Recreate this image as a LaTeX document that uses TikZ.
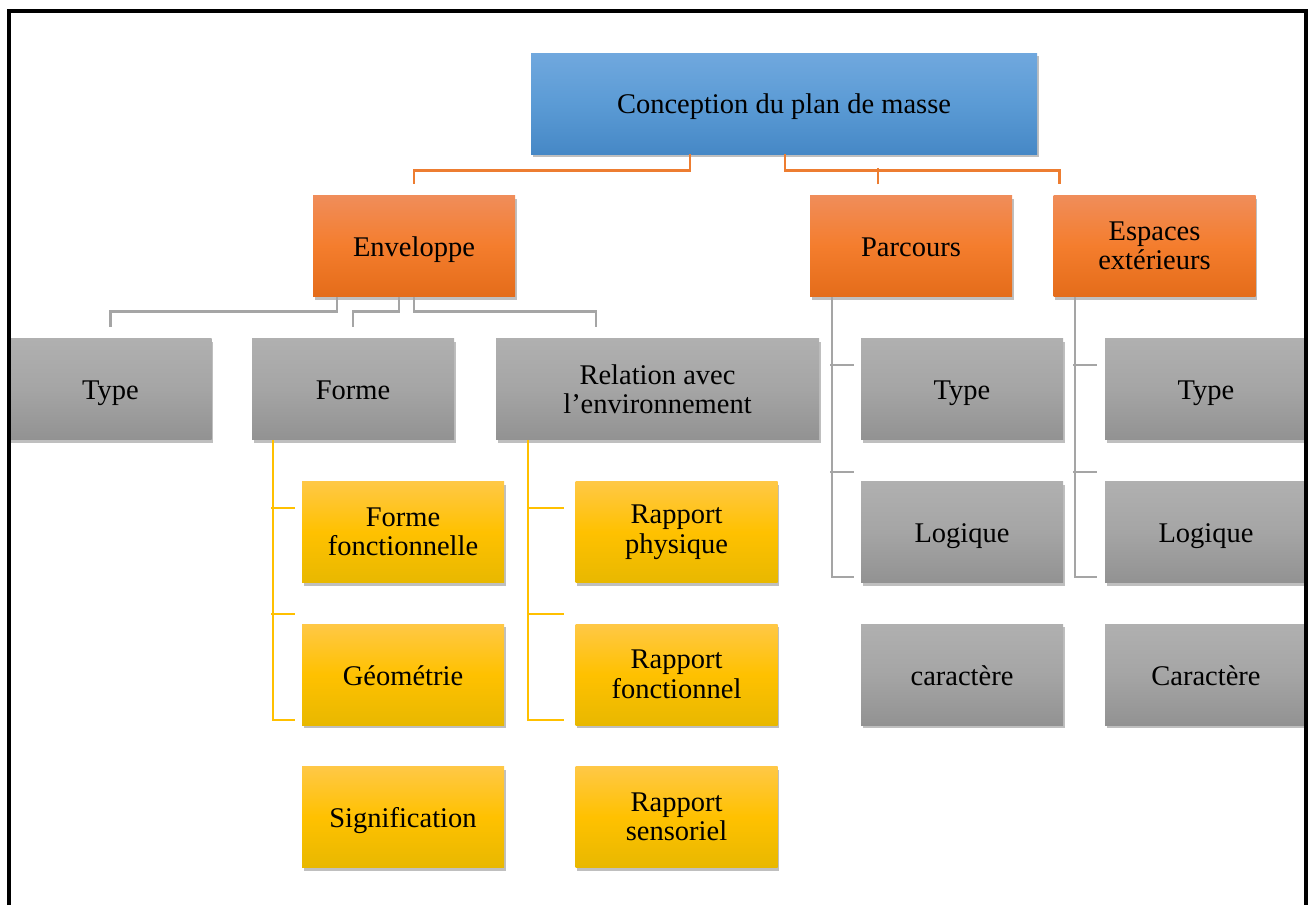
\documentclass[tikz,border=0pt]{standalone}
\usepackage{fontspec}
\setmainfont{Liberation Serif}
\usetikzlibrary{shadows,calc}
\definecolor{blueT}{RGB}{112,168,222}
\definecolor{blueM}{RGB}{91,155,213}
\definecolor{blueB}{RGB}{70,136,198}
\definecolor{orT}{RGB}{240,141,90}
\definecolor{orM}{RGB}{244,125,45}
\definecolor{orB}{RGB}{228,108,26}
\definecolor{grT}{RGB}{176,176,176}
\definecolor{grM}{RGB}{165,165,165}
\definecolor{grB}{RGB}{146,146,146}
\definecolor{yeT}{RGB}{255,200,70}
\definecolor{yeM}{RGB}{255,193,0}
\definecolor{yeB}{RGB}{232,184,0}
\definecolor{lnOr}{RGB}{237,125,49}
\definecolor{lnGr}{RGB}{165,165,165}
\definecolor{lnYe}{RGB}{255,192,0}
\tikzset{
  box/.style={rectangle, minimum width=202pt, minimum height=101pt, inner sep=0pt,
    align=center, font=\fontsize{28.5}{29.5}\selectfont,
    drop shadow={shadow xshift=1.5pt, shadow yshift=-3pt, opacity=0.25, fill=black}},
  oneline/.style={text height=21pt, text depth=0pt},
  bluebox/.style={box, top color=blueT, bottom color=blueB, middle color=blueM},
  orbox/.style={box, top color=orT, bottom color=orB, middle color=orM},
  grbox/.style={box, top color=grT, bottom color=grB, middle color=grM},
  yebox/.style={box, top color=yeT, bottom color=yeB, middle color=yeM},
  conn/.style={line width=2.8pt, line cap=butt, line join=miter},
}
\begin{document}
\begin{tikzpicture}[x=1pt,y=1pt]
\useasboundingbox (0,0) rectangle (1308,-905);
\fill[white] (0,0) rectangle (1308,-905);
% root
\node[bluebox, oneline, minimum width=506pt, text height=19pt] (root) at (784,-103.5) {Conception du plan de masse};
% level 1
\node[orbox, oneline] (env) at (414,-246) {Enveloppe};
\node[orbox, oneline] (par) at (911,-246) {Parcours};
\node[orbox] (esp) at (1154.5,-246) {Espaces\\extérieurs};
% level 2
\node[grbox, oneline] (t1) at (110.5,-389) {Type};
\node[grbox, oneline] (forme) at (353,-389) {Forme};
\node[grbox, minimum width=323pt] (rel) at (657.5,-389) {Relation avec\\l’environnement};
\node[grbox, oneline] (pt) at (962,-389) {Type};
\node[grbox, oneline] (pl) at (962,-532) {Logique};
\node[grbox, oneline] (pc) at (962,-674.5) {caractère};
\node[grbox, oneline] (et) at (1206,-389) {Type};
\node[grbox, oneline] (el) at (1206,-532) {Logique};
\node[grbox, oneline] (ec) at (1206,-674.5) {Caractère};
% level 3
\node[yebox] (ff) at (403,-532) {Forme\\fonctionnelle};
\node[yebox, oneline] (geo) at (403,-674.5) {Géométrie};
\node[yebox, oneline] (sig) at (403,-817) {Signification};
\node[yebox] (rp) at (676.5,-532) {Rapport\\physique};
\node[yebox] (rf) at (676.5,-674.5) {Rapport\\fonctionnel};
\node[yebox] (rs) at (676.5,-817) {Rapport\\sensoriel};
% orange connectors
\draw[conn, lnOr] ([xshift=-94pt]root.south) -- ++(0,-16) -| ([yshift=11pt]env.north);
\draw[conn, lnOr] ([xshift=1pt]root.south) -- ++(0,-16) -| ([xshift=-95pt,yshift=11pt]esp.north);
\draw[conn, lnOr] ([xshift=-33pt,yshift=11pt]par.north) -- ++(0,16);
% grey connectors from Enveloppe
\draw[conn, lnGr] ([xshift=-77pt]env.south) -- ++(0,-15) -| ([yshift=11pt]t1.north);
\draw[conn, lnGr] ([xshift=-15pt]env.south) -- ++(0,-15) -| ([yshift=11pt]forme.north);
\draw[conn, lnGr] (env.south) -- ++(0,-15) -| ([xshift=-61.5pt,yshift=11pt]rel.north);
% grey connectors Parcours
\draw[conn, lnGr] ([xshift=-79pt]par.south) |- ([xshift=-7pt,yshift=-45pt]pl.west);
\draw[conn, lnGr] ([xshift=-30.4pt,yshift=24pt]pt.west) -- ++(23.4,0);
\draw[conn, lnGr] ([xshift=-30.4pt,yshift=60pt]pl.west) -- ++(23.4,0);
% grey connectors Espaces
\draw[conn, lnGr] ([xshift=-79.5pt]esp.south) |- ([xshift=-8pt,yshift=-45pt]el.west);
\draw[conn, lnGr] ([xshift=-31.4pt,yshift=24pt]et.west) -- ++(23.4,0);
\draw[conn, lnGr] ([xshift=-31.4pt,yshift=60pt]el.west) -- ++(23.4,0);
% yellow connectors Forme
\draw[conn, lnYe] ([xshift=-80pt]forme.south) |- ([xshift=-7pt,yshift=-45.5pt]geo.west);
\draw[conn, lnYe] ([xshift=-30.4pt,yshift=24pt]ff.west) -- ++(23.4,0);
\draw[conn, lnYe] ([xshift=-30.4pt,yshift=60.5pt]geo.west) -- ++(23.4,0);
% yellow connectors Relation
\draw[conn, lnYe] ([xshift=-129.5pt]rel.south) |- ([xshift=-11pt,yshift=-45.5pt]rf.west);
\draw[conn, lnYe] ([xshift=-48.4pt,yshift=24pt]rp.west) -- ++(37.4,0);
\draw[conn, lnYe] ([xshift=-48.4pt,yshift=60.5pt]rf.west) -- ++(37.4,0);
% frame
\draw[line width=4pt, black, line join=miter] (9,-905) -- (9,-10.5) -- (1306,-10.5) -- (1306,-905);
\end{tikzpicture}
\end{document}
